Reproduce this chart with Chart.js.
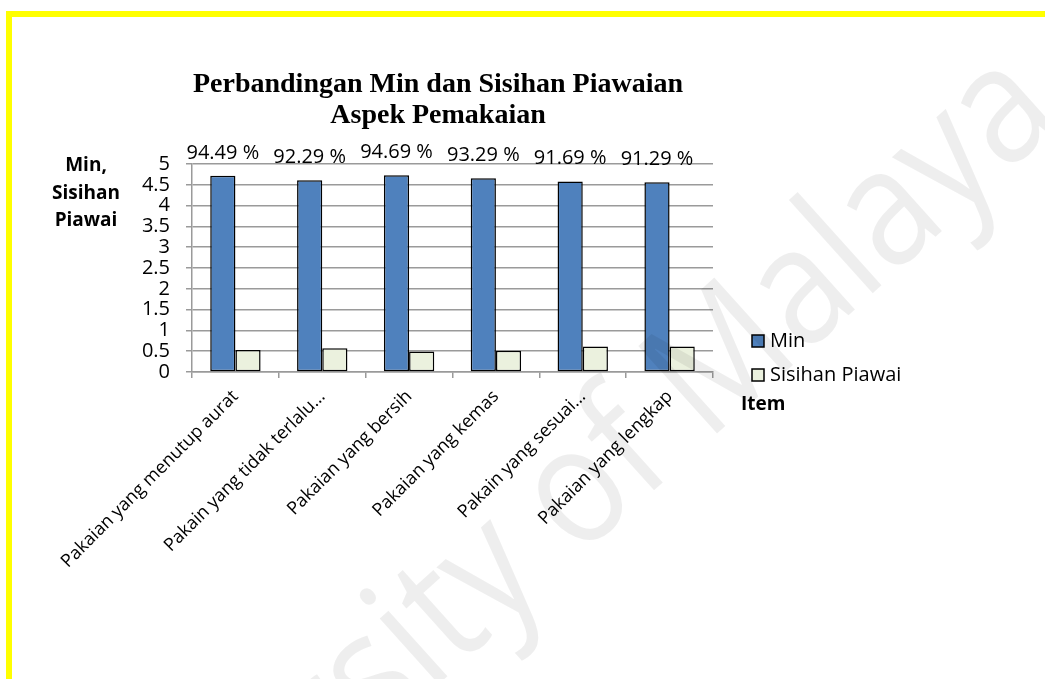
<!DOCTYPE html>
<html>
<head>
<meta charset="utf-8">
<script src="https://cdn.jsdelivr.net/npm/chart.js@4.4.0/dist/chart.umd.min.js"></script>
<style>
  html, body { margin: 0; padding: 0; background: #fff; }
  canvas { display: block; }
</style>
</head>
<body>
<canvas id="aspek-chart" width="1045" height="679"></canvas>
<script>
// values
const categories = [
  'Pakaian yang menutup aurat',
  'Pakain yang tidak terlalu…',
  'Pakaian yang bersih',
  'Pakaian yang kemas',
  'Pakain yang sesuai…',
  'Pakaian yang lengkap'
];
const minValues = [4.72, 4.61, 4.73, 4.66, 4.58, 4.56];
const sdValues = [0.53, 0.57, 0.49, 0.51, 0.61, 0.61];
const percentLabels = ['94.49 %', '92.29 %', '94.69 %', '93.29 %', '91.69 %', '91.29 %'];
const seriesNames = ['Min', 'Sisihan Piawai'];
const yTitleLines = ['Min,', 'Sisihan', 'Piawai'];
const titleLines = ['Perbandingan Min dan Sisihan Piawaian', 'Aspek Pemakaian'];

Chart.defaults.font.family = '"Open Sans", sans-serif';
Chart.defaults.color = '#000';

const gridGray = '#9a9a9a';

// yellow frame lines and white page
const framePlugin = {
  id: 'frame',
  beforeDraw(chart) {
    const ctx = chart.ctx;
    ctx.save();
    ctx.fillStyle = '#fff';
    ctx.fillRect(0, 0, chart.width, chart.height);
    ctx.fillStyle = '#ffff00';
    ctx.fillRect(6, 11, chart.width - 6, 6);
    ctx.fillRect(6, 11, 6, chart.height - 11);
    ctx.restore();
  }
};

// percentage labels above the Min bars
const percentPlugin = {
  id: 'percentLabels',
  afterDatasetsDraw(chart) {
    const ctx = chart.ctx;
    const bars = chart.getDatasetMeta(0).data;
    ctx.save();
    ctx.font = '20px "Open Sans"';
    ctx.fillStyle = '#000';
    ctx.textAlign = 'center';
    ctx.textBaseline = 'alphabetic';
    bars.forEach((bar, i) => {
      ctx.fillText(percentLabels[i], bar.x, bar.y - 17);
    });
    ctx.restore();
  }
};

// title, axis titles, legend and the watermark
const decorPlugin = {
  id: 'decor',
  afterDraw(chart) {
    const ctx = chart.ctx;
    ctx.save();

    ctx.fillStyle = '#000';
    ctx.textAlign = 'center';
    ctx.textBaseline = 'alphabetic';
    ctx.font = 'bold 28px "Liberation Serif"';
    titleLines.forEach((t, i) => ctx.fillText(t, 438, 92 + i * 31));

    ctx.font = 'bold 19px "Open Sans"';
    ctx.textBaseline = 'middle';
    yTitleLines.forEach((t, i) => ctx.fillText(t, 86, 166 + i * 27.5));

    // legend
    ctx.textAlign = 'left';
    ctx.font = '20px "Open Sans"';
    chart.data.datasets.forEach((ds, i) => {
      const y = 341 + i * 34;
      ctx.fillStyle = ds.backgroundColor;
      ctx.fillRect(752, y - 6, 12, 12);
      ctx.strokeStyle = '#000';
      ctx.lineWidth = 1.5;
      ctx.strokeRect(752, y - 6, 12, 12);
      ctx.fillStyle = '#000';
      ctx.fillText(ds.label, 770, y);
    });

    ctx.font = 'bold 19px "Open Sans"';
    ctx.fillText('Item', 741, 405);

    // faint diagonal watermark over everything (narrowed a bit, like Calibri)
    const fs = 165;
    const squeeze = 0.88;
    ctx.font = fs + 'px "Open Sans"';
    ctx.fillStyle = 'rgba(0, 0, 0, 0.065)';
    ctx.textBaseline = 'alphabetic';
    const pre = ctx.measureText('University ').width;
    const oW = ctx.measureText('o').width;
    ctx.translate(580, 497);
    ctx.rotate(-42 * Math.PI / 180);
    ctx.scale(squeeze, 1);
    ctx.fillText('University of Malaya', -(pre + oW / 2), fs * 0.27);

    ctx.restore();
  }
};

new Chart(document.getElementById('aspek-chart'), {
  type: 'bar',
  data: {
    labels: categories,
    datasets: [
      {
        label: seriesNames[0],
        data: minValues,
        backgroundColor: '#4f81bd',
        borderColor: '#000',
        borderWidth: 1.5,
        borderSkipped: false
      },
      {
        label: seriesNames[1],
        data: sdValues,
        backgroundColor: '#ebf1de',
        borderColor: '#000',
        borderWidth: 1.5,
        borderSkipped: false
      }
    ]
  },
  options: {
    responsive: false,
    animation: false,
    layout: { padding: { left: 0, right: 332, top: 164, bottom: 0 } },
    plugins: {
      legend: { display: false },
      title: { display: false },
      tooltip: { enabled: false }
    },
    datasets: {
      bar: { categoryPercentage: 0.58, barPercentage: 1 }
    },
    scales: {
      x: {
        afterFit: (scale) => { scale.height = 307; },
        grid: {
          offset: true,
          drawOnChartArea: false,
          color: gridGray,
          lineWidth: 1.5,
          tickLength: 6
        },
        border: { color: gridGray, width: 1.5 },
        ticks: {
          font: { size: 18 },
          maxRotation: 45,
          minRotation: 45,
          autoSkip: false,
          padding: 8
        }
      },
      y: {
        min: 0,
        max: 5,
        afterFit: (scale) => { scale.width = 192; },
        grid: { color: gridGray, lineWidth: 1.5, tickLength: 6 },
        border: { color: gridGray, width: 1.5 },
        ticks: {
          stepSize: 0.5,
          autoSkip: false,
          font: { size: 20 },
          padding: 16,
          callback: (value) => String(value)
        }
      }
    }
  },
  plugins: [framePlugin, percentPlugin, decorPlugin]
});
</script>
</body>
</html>
